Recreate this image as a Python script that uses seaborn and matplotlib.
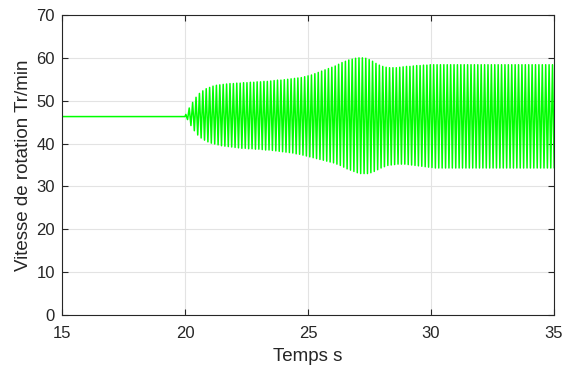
import numpy as np
import pandas as pd
import matplotlib
matplotlib.use("Agg")
import matplotlib.pyplot as plt
import seaborn as sns

# ---- data ----
steady_t = [15.0, 20.0]
steady_v = [46.3, 46.3]
osc_start = 20.0
osc_period = 0.138  # seconds per oscillation cycle

upper_peaks = [
    46.8, 48.3, 49.6, 50.8, 51.7, 52.3, 52.8, 53.1, 53.4, 53.6,
    53.7, 53.8, 53.9, 54.0, 54.0, 54.1, 54.1, 54.2, 54.2, 54.3,
    54.3, 54.4, 54.4, 54.5, 54.5, 54.6, 54.7, 54.8, 54.8, 54.9,
    55.0, 55.1, 55.2, 55.3, 55.4, 55.6, 55.8, 56.0, 56.3, 56.6,
    56.9, 57.2, 57.5, 57.8, 58.1, 58.5, 58.9, 59.2, 59.5, 59.7,
    59.9, 60.0, 60.0, 59.9, 59.6, 59.2, 58.7, 58.3, 58.0, 57.8,
    57.7, 57.7, 57.7, 57.8, 57.9, 58.0, 58.0, 58.1, 58.2, 58.2,
    58.3, 58.3, 58.4, 58.4, 58.4, 58.4, 58.4, 58.4, 58.4, 58.4,
    58.4, 58.4, 58.4, 58.4, 58.4, 58.4, 58.4, 58.4, 58.4, 58.4,
    58.4, 58.4, 58.4, 58.4, 58.4, 58.4, 58.4, 58.4, 58.4, 58.4,
    58.4, 58.4, 58.4, 58.4, 58.4, 58.4, 58.4, 58.4, 58.4,
]
lower_peaks = [
    45.6, 44.2, 43.0, 42.0, 41.3, 40.8, 40.4, 40.1, 39.9, 39.7,
    39.5, 39.4, 39.3, 39.2, 39.1, 39.0, 38.9, 38.9, 38.8, 38.8,
    38.7, 38.7, 38.6, 38.5, 38.5, 38.4, 38.3, 38.2, 38.1, 38.0,
    37.9, 37.8, 37.6, 37.5, 37.3, 37.1, 36.9, 36.7, 36.5, 36.3,
    36.1, 35.9, 35.7, 35.5, 35.2, 34.9, 34.5, 34.1, 33.8, 33.5,
    33.2, 33.0, 33.0, 33.0, 33.2, 33.5, 33.9, 34.3, 34.6, 34.9,
    35.0, 35.1, 35.2, 35.2, 35.2, 35.1, 35.0, 34.9, 34.8, 34.7,
    34.6, 34.5, 34.4, 34.3, 34.3, 34.3, 34.3, 34.3, 34.3, 34.3,
    34.3, 34.3, 34.3, 34.3, 34.3, 34.3, 34.3, 34.3, 34.3, 34.3,
    34.3, 34.3, 34.3, 34.3, 34.3, 34.3, 34.3, 34.3, 34.3, 34.3,
    34.3, 34.3, 34.3, 34.3, 34.3, 34.3, 34.3, 34.3, 34.3,
]
x_ticks = [15, 20, 25, 30, 35]
y_ticks = [0, 10, 20, 30, 40, 50, 60, 70]
x_label = "Temps s"
y_label = "Vitesse de rotation Tr/min"

# ---- assemble the trace: alternating upper / lower peaks ----
ts = list(steady_t)
vs = list(steady_v)
for k, (u, l) in enumerate(zip(upper_peaks, lower_peaks)):
    t0 = osc_start + k * osc_period
    ts += [t0 + 0.25 * osc_period, t0 + 0.75 * osc_period]
    vs += [u, l]
df = pd.DataFrame({"t": ts, "v": vs, "order": range(len(ts))})

sns.set_theme(style="white")
plt.rcParams["font.family"] = ["Liberation Sans", "DejaVu Sans"]

fig = plt.figure(figsize=(5.63, 3.71), dpi=100)
ax = fig.add_axes([62 / 563, 1 - 315 / 371, (554 - 62) / 563, (315 - 15) / 371])

sns.lineplot(data=df, x="t", y="v", sort=False, estimator=None,
             color="#00ff00", linewidth=1.1, ax=ax)

ax.set_xlim(15, 35)
ax.set_ylim(0, 70)
ax.set_xticks(x_ticks)
ax.set_yticks(y_ticks)
ax.grid(True, color="#e3e3e3", linewidth=0.8)
ax.set_axisbelow(True)
for s in ax.spines.values():
    s.set_visible(True)
    s.set_color("#262626")
    s.set_linewidth(0.8)
ax.tick_params(direction="in", length=4, width=0.8, colors="#262626",
               labelsize=12, top=True, right=True, bottom=True, left=True,
               labelcolor="#262626")
ax.tick_params(axis="x", pad=8)
ax.tick_params(axis="y", pad=5)
ax.set_xlabel(x_label, fontsize=13.5, color="#262626", labelpad=5)
ax.set_ylabel(y_label, fontsize=13.5, color="#262626", labelpad=3)

fig.savefig("out.png", dpi=100)
